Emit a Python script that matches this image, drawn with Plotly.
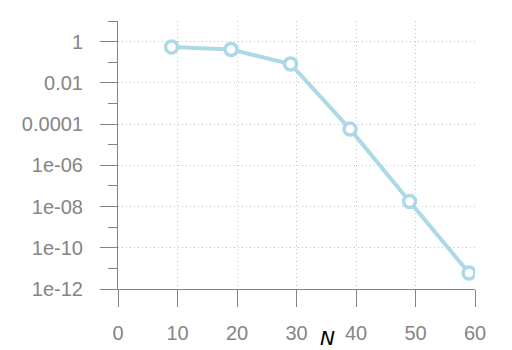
import plotly.graph_objects as go

# DATA #
n_vals = [9, 19, 29, 39, 49, 59]
err_vals = [0.55, 0.41, 0.082, 5.7e-5, 1.75e-8, 6e-12]
y_tick_vals = [1e-12, 1e-10, 1e-8, 1e-6, 1e-4, 1e-2, 1]
y_tick_text = ["1e-12", "1e-10", "1e-08", "1e-06", "0.0001", "0.01", "1"]
y_minor_vals = [1e-11, 1e-9, 1e-7, 1e-5, 1e-3, 1e-1, 10]
x_tick_vals = [0, 10, 20, 30, 40, 50, 60]

AXIS_GRAY = "#858585"
GRID_GRAY = "#c4c4c4"
LINE_BLUE = "#add8e6"

fig = go.Figure()
fig.add_trace(go.Scatter(
    x=n_vals, y=err_vals, mode="lines+markers",
    line=dict(color=LINE_BLUE, width=4),
    marker=dict(symbol="circle", size=12, color="white",
                line=dict(color=LINE_BLUE, width=3.5)),
    showlegend=False))

# page body adds 8px offset, margins compensate
fig.update_layout(
    width=512, height=350,
    margin=dict(l=110, r=45, t=13, b=69),
    plot_bgcolor="white", paper_bgcolor="white",
    font=dict(family="Liberation Sans, Arial, sans-serif", size=20, color=AXIS_GRAY),
)
fig.update_xaxes(
    range=[0, 60], tickmode="array", tickvals=x_tick_vals,
    showline=True, linecolor=AXIS_GRAY, linewidth=1,
    ticks="outside", ticklen=17, tickcolor=AXIS_GRAY, tickwidth=1,
    showgrid=True, gridcolor=GRID_GRAY, griddash="1px,3px", gridwidth=1,
    zeroline=False, ticklabelstandoff=9, automargin=False,
)
fig.update_yaxes(
    type="log", range=[-12, 1], tickmode="array",
    tickvals=y_tick_vals, ticktext=y_tick_text,
    showline=True, linecolor=AXIS_GRAY, linewidth=1,
    ticks="outside", ticklen=17, tickcolor=AXIS_GRAY, tickwidth=1,
    showgrid=True, gridcolor=GRID_GRAY, griddash="1px,3px", gridwidth=1,
    zeroline=False, ticklabelstandoff=13, automargin=False,
    minor=dict(tickmode="array", tickvals=y_minor_vals, ticks="outside",
               ticklen=9, tickcolor=AXIS_GRAY, tickwidth=1, showgrid=False),
)
# AXIS LABEL #
fig.add_annotation(x=35.2, y=-0.183, xref="x", yref="paper", text="<i>N</i>",
                   showarrow=False, yanchor="middle",
                   font=dict(family="DejaVu Sans, sans-serif", size=20, color="black"))

fig.write_html("out.html")
